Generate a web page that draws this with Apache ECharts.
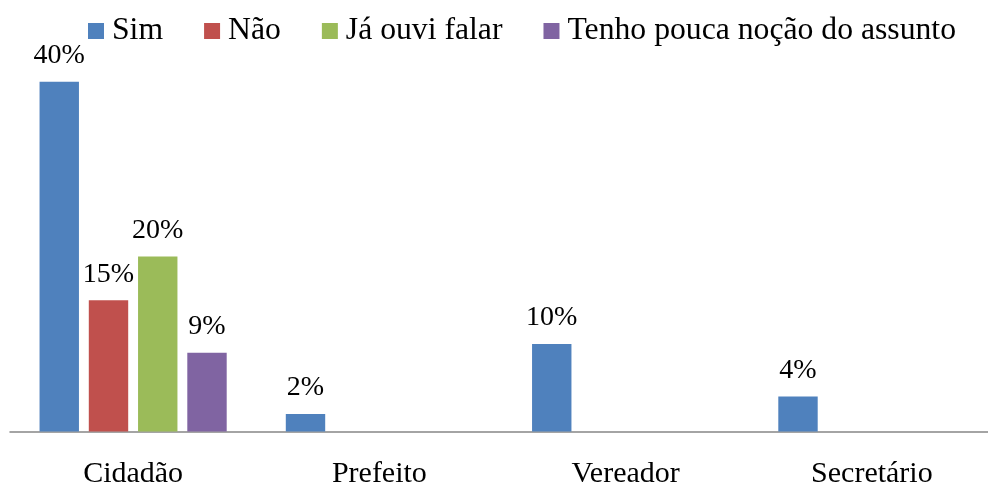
<!DOCTYPE html>
<html>
<head>
<meta charset="utf-8">
<script src="https://cdn.jsdelivr.net/npm/echarts@6/dist/echarts.min.js"></script>
<style>html,body{margin:0;padding:0;background:#fff}#c{width:988px;height:489px}</style>
</head>
<body>
<div id="c"></div>
<script>
const categories = ['Cidadão', 'Prefeito', 'Vereador', 'Secretário'];
const seriesNames = ['Sim', 'Não', 'Já ouvi falar', 'Tenho pouca noção do assunto'];
const simValues = [40, 2, 10, 4];
const naoValues = [15, null, null, null];
const jaOuviValues = [20, null, null, null];
const tenhoPoucaValues = [9, null, null, null];
const colors = ['#4F81BD', '#C0504D', '#9BBB59', '#8064A2'];

const font = 'Liberation Serif, Times New Roman, serif';
const allValues = [simValues, naoValues, jaOuviValues, tenhoPoucaValues];

const chart = echarts.init(document.getElementById('c'));
chart.setOption({
  animation: false,
  color: colors,
  legend: {
    left: 83,
    top: 10,
    itemWidth: 16,
    itemHeight: 16,
    itemGap: 41,
    icon: 'rect',
    textStyle: { fontFamily: font, fontSize: 31.7, color: '#000', padding: [2, 0, 0, 3] },
    data: seriesNames
  },
  grid: { left: 10, right: -7, top: 38, bottom: 57.5, outerBoundsMode: 'none', containLabel: false },
  xAxis: {
    type: 'category',
    data: categories,
    axisLine: { lineStyle: { color: '#868686', width: 1.5 } },
    axisTick: { show: false },
    axisLabel: { fontFamily: font, fontSize: 30, color: '#000', margin: 28 }
  },
  yAxis: {
    type: 'value',
    min: 0,
    max: 45,
    show: false,
    splitLine: { show: false }
  },
  series: seriesNames.map((n, i) => ({
    name: n,
    type: 'bar',
    data: allValues[i],
    barGap: '25%',
    barCategoryGap: '24%',
    label: {
      show: true,
      position: 'top',
      distance: 12,
      formatter: p => p.value == null ? '' : p.value + '%',
      fontFamily: font,
      fontSize: 28,
      color: '#000'
    }
  }))
});
</script>
</body>
</html>
